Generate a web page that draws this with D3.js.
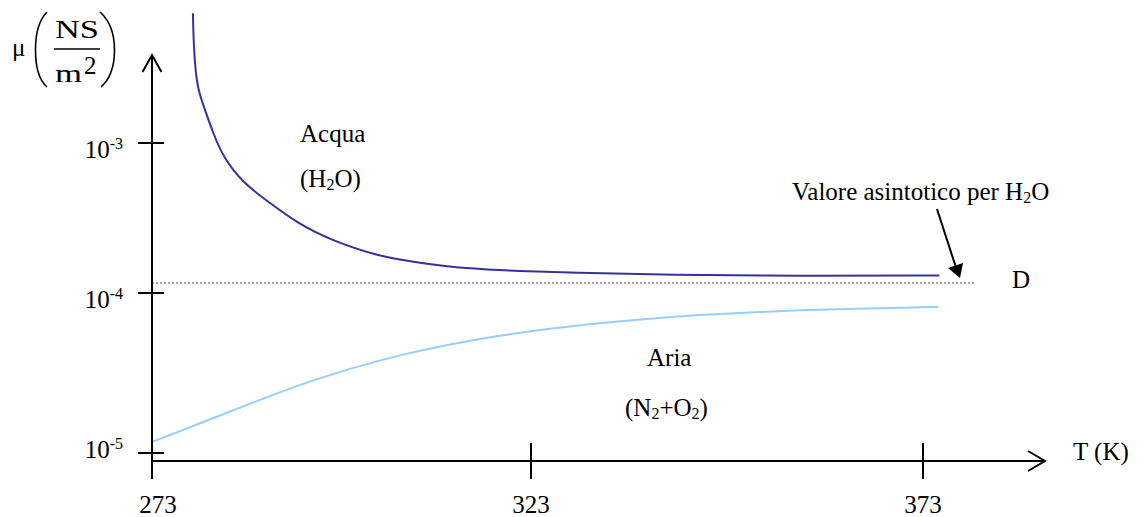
<!DOCTYPE html>
<html lang="it">
<head>
  <meta charset="UTF-8">
  <title>Viscosità</title>
  <style>
    html, body { margin: 0; padding: 0; background: #fff; }
    svg text { font-family: "Liberation Serif", "Times New Roman", serif; font-size: 25px; fill: #000; }
  </style>
</head>
<body>
  <svg class="chart" width="1144" height="517"></svg>
  <script src="https://cdnjs.cloudflare.com/ajax/libs/d3/7.8.5/d3.min.js"></script>
  <script>
    // dati
    const xTicks = [273, 323, 373];
    const yTicks = [1e-5, 1e-4, 1e-3];
    const yTickExp = ["-5", "-4", "-3"];

    // Acqua (H2O): T (K), mu (Ns/m^2)
    const waterT  = [278.4, 278.45, 278.67, 279.07, 279.99, 281.05, 282.37, 285.0, 288.57, 292.13, 296.48, 303.07, 308.35, 314.95, 321.55, 327.97, 340.73, 357.3, 375.1];
    const waterMu = [7.33e-3, 5.41e-3, 3.21e-3, 2.26e-3, 1.66e-3, 1.17e-3, 8.07e-4, 5.41e-4, 3.98e-4, 2.93e-4, 2.26e-4, 1.74e-4, 1.585e-4, 1.445e-4, 1.40e-4, 1.365e-4, 1.318e-4, 1.30e-4, 1.308e-4];

    // Aria (N2+O2)
    const airT  = [273, 278.41, 286.85, 292.52, 299.12, 305.71, 312.32, 318.91, 325.42, 331.8, 338.18, 344.56, 350.94, 357.31, 363.69, 374.92];
    const airMu = [1.172e-5, 1.475e-5, 2.113e-5, 2.679e-5, 3.375e-5, 4.10e-5, 4.80e-5, 5.43e-5, 6.00e-5, 6.49e-5, 6.93e-5, 7.29e-5, 7.57e-5, 7.81e-5, 7.98e-5, 8.18e-5];

    // valore asintotico (linea D)
    const asymMu = 1.166e-4;
    const asymT = [273, 379.6];

    const svg = d3.select("svg.chart");

    // scale (disegno a mano: spaziatura non perfettamente uniforme)
    const x = d3.scaleLinear().domain(xTicks).range([152, 531, 923]);
    const y = d3.scaleLog().domain(yTicks).range([453, 293, 143]);

    const x0 = x(273), axisY = 461, yTop = 55, yBottom = 479, xRight = 1045;

    // linea asintotica tratteggiata
    svg.append("line")
      .attr("x1", x(asymT[0])).attr("x2", x(asymT[1]))
      .attr("y1", y(asymMu)).attr("y2", y(asymMu))
      .attr("stroke", "#555").attr("stroke-width", 1)
      .attr("stroke-dasharray", "2,2");

    // curve
    const line = d3.line()
      .x(d => x(d[0]))
      .y(d => y(d[1]))
      .curve(d3.curveBasis);

    svg.append("path")
      .datum(d3.zip(waterT, waterMu))
      .attr("d", line)
      .attr("fill", "none")
      .attr("stroke", "#333399")
      .attr("stroke-width", 2);

    svg.append("path")
      .datum(d3.zip(airT, airMu))
      .attr("d", line)
      .attr("fill", "none")
      .attr("stroke", "#99ccff")
      .attr("stroke-width", 2);

    // assi
    const axes = svg.append("g").attr("stroke", "#000").attr("stroke-width", 2).attr("fill", "none");
    axes.append("line").attr("x1", x0).attr("x2", x0).attr("y1", yTop).attr("y2", yBottom);
    axes.append("line").attr("x1", x0).attr("x2", xRight).attr("y1", axisY).attr("y2", axisY);
    // frecce
    axes.append("path").attr("d", `M${x0 - 9.5},${yTop + 17}L${x0},${yTop}L${x0 + 9.5},${yTop + 17}`);
    axes.append("path").attr("d", `M${xRight - 17},${axisY - 10}L${xRight},${axisY}L${xRight - 17},${axisY + 10}`);

    // tacche asse y
    axes.selectAll("line.ytick")
      .data(yTicks)
      .enter().append("line")
      .attr("class", "ytick")
      .attr("x1", x0 - 14).attr("x2", x0 + 12)
      .attr("y1", d => y(d)).attr("y2", d => y(d));

    // tacche asse x
    axes.selectAll("line.xtick")
      .data(xTicks.slice(1))
      .enter().append("line")
      .attr("class", "xtick")
      .attr("x1", d => x(d)).attr("x2", d => x(d))
      .attr("y1", axisY - 18).attr("y2", yBottom);

    // etichette asse x
    svg.selectAll("text.xlab")
      .data(xTicks)
      .enter().append("text")
      .attr("class", "xlab")
      .attr("x", (d, i) => x(d) + (i === 0 ? 6 : 0))
      .attr("y", 513)
      .attr("text-anchor", "middle")
      .text(d => d);

    // etichette asse y (10^n)
    const ylab = svg.selectAll("text.ylab")
      .data(yTicks)
      .enter().append("text")
      .attr("class", "ylab")
      .attr("x", 123)
      .attr("y", (d, i) => y(d) + (i === 0 ? 5 : 15))
      .attr("text-anchor", "end");
    ylab.append("tspan").text("10");
    ylab.append("tspan")
      .attr("font-size", "16px")
      .attr("dy", -9)
      .text((d, i) => yTickExp[i]);

    // titolo asse y: mu (NS / m^2)
    svg.append("text").attr("x", 12).attr("y", 56).attr("font-size", "30px").text("μ");
    svg.append("text").attr("x", 55).attr("y", 38)
      .attr("textLength", 44).attr("lengthAdjust", "spacingAndGlyphs")
      .text("NS");
    svg.append("line").attr("x1", 54).attr("x2", 100).attr("y1", 49).attr("y2", 49)
      .attr("stroke", "#000").attr("stroke-width", 1.3);
    svg.append("text").attr("x", 55).attr("y", 82)
      .attr("font-size", "26px")
      .attr("textLength", 27).attr("lengthAdjust", "spacingAndGlyphs")
      .text("m");
    svg.append("text").attr("x", 84).attr("y", 74).attr("font-size", "13px").text("2");
    const parens = svg.append("g").attr("fill", "none").attr("stroke", "#000").attr("stroke-width", 1.6);
    parens.append("path").attr("d", "M47,12C39,20 35.5,32 35.5,50C35.5,68 39,80 47,87");
    parens.append("path").attr("d", "M100,12C109,20 114.5,32 114.5,50C114.5,68 109,80 101,87");

    // titolo asse x
    svg.append("text").attr("x", 1073).attr("y", 460).text("T (K)");

    // etichette delle curve
    svg.append("text").attr("x", 300).attr("y", 142).text("Acqua");
    const h2o = svg.append("text").attr("x", 300).attr("y", 187);
    h2o.append("tspan").text("(H");
    h2o.append("tspan").attr("font-size", "16px").attr("dy", 3).text("2");
    h2o.append("tspan").attr("dy", -3).text("O)");

    svg.append("text").attr("x", 647).attr("y", 366).text("Aria");
    const air = svg.append("text").attr("x", 625).attr("y", 416);
    air.append("tspan").text("(N");
    air.append("tspan").attr("font-size", "16px").attr("dy", 3).text("2");
    air.append("tspan").attr("dy", -3).text("+O");
    air.append("tspan").attr("font-size", "16px").attr("dy", 3).text("2");
    air.append("tspan").attr("dy", -3).text(")");

    // annotazione valore asintotico
    const ann = svg.append("text").attr("x", 792).attr("y", 200);
    ann.append("tspan").text("Valore asintotico per H");
    ann.append("tspan").attr("font-size", "16px").attr("dy", 3).text("2");
    ann.append("tspan").attr("dy", -3).text("O");

    svg.append("line")
      .attr("x1", 937).attr("y1", 209).attr("x2", 955.5).attr("y2", 266)
      .attr("stroke", "#000").attr("stroke-width", 2);
    svg.append("path")
      .attr("d", "M960,278L948,268L963,263Z")
      .attr("fill", "#000");

    svg.append("text").attr("x", 1012).attr("y", 288).text("D");
  </script>
</body>
</html>
